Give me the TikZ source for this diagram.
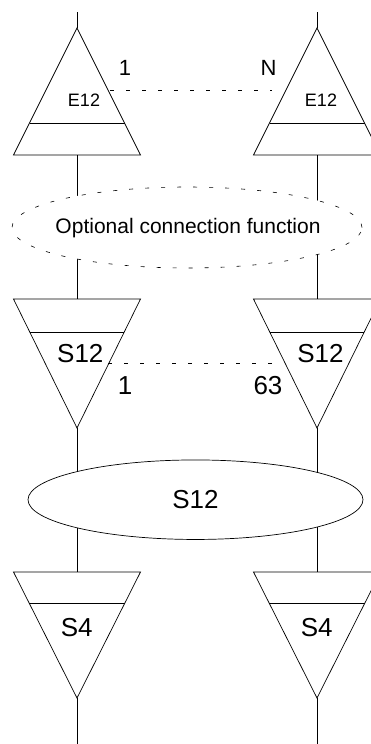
\documentclass[tikz,border=0pt]{standalone}
\usepackage{fontspec}
\setmainfont{Liberation Sans}
\usetikzlibrary{shapes.geometric}

\begin{document}
\begin{tikzpicture}[
    x=1pt, y=-1pt,
    every node/.style={inner sep=0pt},
    wire/.style={line width=0.7pt},
    tie/.style={line width=0.6pt, dash pattern=on 4pt off 12pt},
    lbl/.style={font=\fontsize{#1pt}{#1pt}\selectfont}
]
\useasboundingbox (0,0) rectangle (371,744);
\clip (0,0) rectangle (371,744);
\foreach \x/\c in {77/L,317/R} {
    % E12 unit, apex up
    \coordinate (in\c) at (\x,12);
    \coordinate (eap\c) at (\x,28);
    \coordinate (ebs\c) at (\x,155);
    \draw[wire] (eap\c) -- (\x-63.5,155) -- (\x+63.5,155) -- cycle;
    \draw[wire] (\x-47.5,123) -- (\x+47.5,123);
    % S12 unit, apex down
    \coordinate (stp\c) at (\x,299);
    \coordinate (sap\c) at (\x,428);
    \draw[wire] (\x-63.5,299) -- (\x+63.5,299) -- (sap\c) -- cycle;
    \draw[wire] (\x-47.3,332) -- (\x+47.3,332);
    % S4 unit, apex down
    \coordinate (ftp\c) at (\x,572);
    \coordinate (fap\c) at (\x,698);
    \coordinate (out\c) at (\x,744);
    \draw[wire] (\x-63.5,572) -- (\x+63.5,572) -- (fap\c) -- cycle;
    \draw[wire] (\x-47.9,603) -- (\x+47.9,603);
    % vertical path
    \draw[wire] (in\c) -- (eap\c);
    \draw[wire] (ebs\c) -- (stp\c);
    \draw[wire] (sap\c) -- (ftp\c);
    \draw[wire] (fap\c) -- (out\c);
}
\node[ellipse, draw, fill=white, line width=0.6pt, dash pattern=on 4pt off 12pt,
      minimum width=350pt, minimum height=81pt] (opt) at (187,227.5) {};
\node[lbl=21] (optTxt) at (188,228) {Optional connection function};
\node[ellipse, draw, fill=white, wire, minimum width=335pt, minimum height=79.5pt,
      lbl=26] (mux) at (195.5,499.7) {S12};
% labels
\node[lbl=18] (eL) at (84,100) {E12};
\node[lbl=18] (eR) at (321,100) {E12};
\node[lbl=22] (nL) at (125,67.5) {1};
\node[lbl=22] (nR) at (268.5,67.5) {N};
\node[lbl=26] (sL) at (80.3,354) {S12};
\node[lbl=26] (sR) at (320.5,354) {S12};
\node[lbl=26] (mL) at (125,386) {1};
\node[lbl=26] (mR) at (268,386) {63};
\node[lbl=26] (fL) at (76.7,628) {S4};
\node[lbl=26] (fR) at (316.7,628) {S4};
% dashed ties
\coordinate (tTL) at (110,90.7);
\coordinate (tTR) at (272,90.7);
\coordinate (tSL) at (108,363.3);
\coordinate (tSR) at (272,363.3);
\draw[tie] (tTL) -- (tTR);
\draw[tie] (tSL) -- (tSR);
\end{tikzpicture}
\end{document}
